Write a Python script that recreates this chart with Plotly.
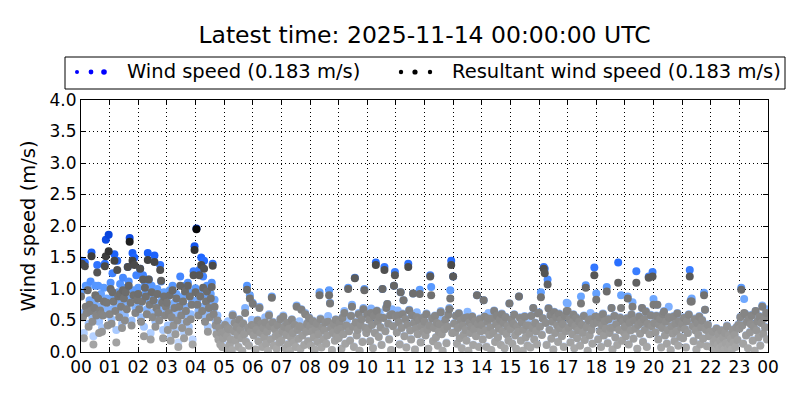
import pandas as pd
import plotly.graph_objects as go

# 2-minute samples, one row per hour
wind_speed = [
    0.95, 1.45, 0.62, 0.30, 1.42, 1.05, 0.70, 1.02, 0.45, 0.82, 1.12, 1.58, 0.55, 0.25, 0.78, 1.05, 0.62, 1.38, 1.05, 0.48, 0.72, 0.92, 0.38, 0.68, 1.02, 1.40, 1.78, 0.85, 0.60, 1.86,
    0.68, 1.10, 0.52, 1.25, 0.88, 1.55, 0.72, 0.35, 1.45, 0.95, 0.62, 1.08, 0.80, 0.45, 1.18, 0.92, 0.58, 1.02, 0.75, 1.35, 1.12, 1.81, 0.85, 0.50, 1.57, 0.98, 1.50, 0.70, 1.22, 0.90,
    1.02, 0.75, 1.32, 0.55, 0.88, 1.22, 0.40, 1.10, 0.95, 0.68, 1.57, 1.15, 0.82, 0.30, 1.05, 0.62, 0.90, 1.53, 0.48, 0.78, 1.00, 0.70, 0.58, 1.38, 1.12, 0.85, 0.35, 0.95, 0.65, 0.80,
    0.85, 0.42, 0.70, 0.98, 0.25, 0.62, 1.05, 0.50, 0.78, 0.35, 0.92, 0.58, 0.15, 0.80, 1.20, 0.65, 0.45, 0.88, 0.30, 1.05, 0.72, 0.55, 1.10, 0.40, 0.95, 0.60, 0.82, 0.20, 1.28, 1.68,
    1.01, 1.96, 0.82, 0.65, 1.30, 0.95, 1.50, 0.72, 1.20, 1.45, 0.55, 0.88, 1.05, 0.40, 0.78, 0.62, 0.92, 1.10, 1.40, 0.68, 0.83, 0.50, 0.35, 0.58, 0.28, 0.45, 0.20, 0.38, 0.15, 0.30,
    0.31, 0.44, 0.07, 0.26, 0.49, 0.37, 0.13, 0.21, 0.03, 0.60, 0.34, 0.47, 0.19, 0.41, 0.28, 0.09, 0.52, 0.36, 0.23, 0.02, 0.46, 0.29, 0.70, 0.17, 1.05, 0.39, 0.11, 0.90, 0.33, 0.51,
    0.78, 0.27, 0.43, 0.04, 0.36, 0.51, 0.18, 0.72, 0.31, 0.46, 0.09, 0.39, 0.24, 0.55, 0.14, 0.33, 0.02, 0.60, 0.42, 0.21, 0.88, 0.48, 0.11, 0.37, 0.26, 0.06, 0.44, 0.29, 0.16, 0.53,
    0.19, 0.34, 0.58, 0.41, 0.07, 0.28, 0.47, 0.13, 0.38, 0.02, 0.24, 0.52, 0.31, 0.16, 0.44, 0.09, 0.74, 0.36, 0.22, 0.49, 0.05, 0.68, 0.27, 0.40, 0.12, 0.62, 0.33, 0.46, 0.18, 0.55,
    0.42, 0.11, 0.33, 0.50, 0.24, 0.04, 0.37, 0.46, 0.17, 0.29, 0.95, 0.53, 0.08, 0.40, 0.21, 0.35, 0.48, 0.14, 0.27, 0.57, 0.98, 0.78, 0.39, 0.03, 0.31, 0.45, 0.19, 0.52, 0.26, 0.36,
    0.23, 0.47, 0.38, 0.06, 0.55, 0.29, 0.65, 0.14, 0.43, 0.51, 1.02, 0.34, 0.19, 0.58, 0.75, 0.41, 0.09, 1.18, 0.48, 0.27, 0.36, 0.62, 0.02, 0.44, 0.53, 0.17, 0.70, 1.00, 0.39, 0.31,
    0.61, 0.37, 0.52, 0.18, 0.69, 0.44, 0.07, 0.58, 0.31, 1.42, 0.66, 0.49, 0.25, 0.63, 0.40, 0.12, 1.00, 0.55, 1.35, 0.34, 0.71, 0.76, 0.46, 0.21, 0.59, 0.03, 0.68, 0.42, 1.05, 1.27,
    0.57, 0.32, 0.66, 0.48, 0.13, 0.95, 0.39, 0.61, 0.82, 0.26, 0.53, 0.08, 0.44, 1.40, 0.67, 0.35, 0.21, 0.59, 0.93, 0.47, 0.04, 0.38, 0.63, 0.29, 0.51, 0.99, 0.16, 0.42, 0.55, 0.33,
    0.49, 0.27, 0.61, 0.36, 0.05, 0.43, 1.22, 1.03, 0.54, 0.18, 0.39, 0.58, 0.24, 0.47, 0.11, 0.33, 0.56, 0.65, 0.29, 0.02, 0.44, 0.37, 0.52, 0.15, 0.41, 0.60, 0.70, 0.98, 1.45, 0.31,
    1.20, 0.46, 0.32, 0.58, 0.14, 0.39, 0.62, 0.23, 0.51, 0.07, 0.43, 0.28, 0.55, 0.36, 0.19, 0.64, 0.02, 0.48, 0.31, 0.41, 0.57, 0.12, 0.37, 0.50, 0.26, 0.90, 0.45, 0.09, 0.53, 0.34,
    0.44, 0.21, 0.82, 0.57, 0.35, 0.09, 0.49, 0.62, 0.28, 0.40, 0.03, 0.54, 0.31, 0.66, 0.17, 0.45, 0.59, 0.24, 0.38, 0.52, 0.12, 0.61, 0.34, 0.47, 0.06, 0.56, 0.29, 0.42, 0.19, 0.77,
    0.37, 0.52, 0.14, 0.46, 0.60, 0.27, 0.05, 0.41, 0.33, 0.88, 0.55, 0.19, 0.48, 0.02, 0.36, 0.57, 0.24, 0.43, 0.11, 0.50, 0.30, 0.08, 0.58, 0.39, 0.70, 0.21, 0.47, 0.34, 0.13, 0.62,
    0.63, 0.41, 0.95, 0.28, 0.54, 1.35, 1.32, 0.47, 0.12, 1.15, 0.70, 0.36, 0.59, 0.22, 0.49, 0.04, 0.64, 0.31, 0.56, 0.43, 0.17, 0.61, 0.38, 0.52, 0.26, 0.45, 0.09, 0.58, 0.34, 0.78,
    0.77, 0.39, 0.53, 0.16, 0.47, 0.29, 0.60, 0.06, 0.42, 0.55, 0.23, 0.35, 0.49, 0.11, 0.88, 0.44, 0.31, 0.58, 0.20, 1.06, 0.40, 0.02, 0.51, 0.27, 0.62, 0.36, 0.14, 0.46, 1.34, 0.57,
    0.93, 0.48, 0.21, 0.56, 0.34, 0.09, 0.43, 0.61, 0.27, 0.50, 0.38, 1.03, 0.15, 0.53, 0.31, 0.46, 0.70, 0.04, 0.40, 0.58, 0.24, 0.45, 0.12, 1.42, 0.36, 0.55, 0.90, 0.19, 0.49, 0.32,
    0.41, 0.26, 0.54, 0.88, 0.13, 0.47, 0.35, 0.60, 0.79, 0.22, 0.51, 0.38, 1.28, 0.05, 0.44, 0.57, 0.30, 0.48, 0.70, 0.17, 0.53, 0.36, 0.65, 0.09, 0.46, 1.20, 0.29, 0.59, 0.42, 1.27,
    0.84, 0.47, 0.32, 0.58, 0.75, 0.21, 0.44, 0.53, 0.08, 0.39, 0.61, 0.65, 0.27, 0.49, 0.14, 0.36, 0.72, 0.55, 0.03, 0.42, 0.30, 0.57, 0.18, 0.46, 0.34, 0.62, 0.11, 0.50, 0.25, 0.40,
    0.46, 0.23, 0.55, 0.37, 0.08, 0.50, 0.31, 0.60, 1.30, 0.82, 0.85, 0.42, 0.18, 0.53, 0.35, 0.04, 0.47, 0.28, 0.57, 0.13, 0.40, 0.51, 0.22, 0.94, 0.67, 0.36, 0.10, 0.44, 0.26, 0.33,
    0.26, 0.08, 0.33, 0.17, 0.02, 0.21, 0.38, 0.12, 0.29, 0.05, 0.19, 0.35, 0.10, 0.24, 0.03, 0.31, 0.15, 0.42, 0.07, 0.27, 0.13, 0.22, 0.04, 0.36, 0.16, 0.28, 0.09, 0.40, 0.20, 0.44,
    0.38, 0.56, 1.02, 0.43, 0.14, 0.84, 0.61, 0.27, 0.49, 0.06, 0.53, 0.32, 0.45, 0.59, 0.19, 0.41, 0.02, 0.65, 0.35, 0.50, 0.24, 0.57, 0.11, 0.47, 0.74, 0.30, 0.54, 0.40, 0.68, 0.21,
]

resultant_speed = [
    0.88, 1.40, 0.55, 0.22, 1.36, 0.72, 0.62, 0.98, 0.40, 0.75, 0.65, 1.52, 0.48, 0.12, 0.70, 0.90, 0.58, 1.26, 0.85, 0.30, 0.66, 0.60, 0.32, 0.58, 0.80, 1.36, 1.52, 0.78, 0.42, 1.60,
    0.60, 1.00, 0.45, 0.95, 0.80, 1.45, 0.65, 0.15, 1.30, 0.88, 0.55, 0.92, 0.72, 0.38, 0.98, 0.85, 0.50, 0.95, 0.68, 1.35, 1.05, 1.75, 0.78, 0.42, 1.45, 0.90, 1.38, 0.62, 0.88, 0.82,
    0.92, 0.68, 1.32, 0.48, 0.80, 1.15, 0.25, 1.02, 0.88, 0.60, 1.46, 1.15, 0.75, 0.20, 0.95, 0.55, 0.82, 1.43, 0.40, 0.70, 0.92, 0.62, 0.50, 1.30, 1.13, 0.78, 0.22, 0.88, 0.58, 0.72,
    0.78, 0.35, 0.62, 0.90, 0.18, 0.55, 0.98, 0.42, 0.70, 0.28, 0.85, 0.50, 0.08, 0.72, 1.05, 0.58, 0.38, 0.80, 0.22, 0.96, 0.65, 0.48, 1.05, 0.32, 0.88, 0.52, 0.75, 0.12, 1.22, 1.62,
    0.95, 1.95, 0.75, 0.58, 1.22, 0.88, 1.38, 0.65, 1.02, 1.32, 0.48, 0.80, 0.96, 0.32, 0.70, 0.55, 0.85, 1.03, 1.37, 0.60, 0.72, 0.42, 0.28, 0.50, 0.20, 0.38, 0.12, 0.30, 0.08, 0.22,
    0.30, 0.43, 0.06, 0.25, 0.38, 0.36, 0.12, 0.20, 0.03, 0.58, 0.33, 0.46, 0.18, 0.40, 0.27, 0.08, 0.51, 0.35, 0.22, 0.02, 0.45, 0.28, 0.62, 0.16, 0.99, 0.38, 0.10, 0.85, 0.32, 0.43,
    0.76, 0.26, 0.42, 0.04, 0.35, 0.50, 0.17, 0.70, 0.30, 0.45, 0.08, 0.38, 0.23, 0.47, 0.13, 0.32, 0.02, 0.58, 0.41, 0.20, 0.86, 0.47, 0.10, 0.36, 0.25, 0.05, 0.43, 0.28, 0.15, 0.52,
    0.18, 0.33, 0.56, 0.40, 0.06, 0.27, 0.46, 0.12, 0.37, 0.02, 0.23, 0.51, 0.30, 0.15, 0.43, 0.08, 0.72, 0.35, 0.21, 0.41, 0.05, 0.67, 0.26, 0.39, 0.11, 0.60, 0.32, 0.45, 0.17, 0.54,
    0.41, 0.10, 0.32, 0.49, 0.23, 0.04, 0.36, 0.45, 0.16, 0.28, 0.90, 0.52, 0.07, 0.39, 0.20, 0.34, 0.47, 0.13, 0.26, 0.48, 0.90, 0.77, 0.38, 0.03, 0.30, 0.44, 0.18, 0.51, 0.25, 0.35,
    0.22, 0.46, 0.37, 0.05, 0.54, 0.28, 0.62, 0.13, 0.42, 0.40, 1.00, 0.33, 0.18, 0.57, 0.72, 0.40, 0.08, 1.17, 0.47, 0.26, 0.35, 0.60, 0.02, 0.43, 0.52, 0.16, 0.68, 0.98, 0.38, 0.30,
    0.60, 0.36, 0.51, 0.17, 0.62, 0.43, 0.06, 0.57, 0.30, 1.38, 0.65, 0.48, 0.24, 0.55, 0.39, 0.11, 1.00, 0.54, 1.30, 0.33, 0.70, 0.76, 0.45, 0.20, 0.58, 0.03, 0.60, 0.41, 1.05, 1.22,
    0.56, 0.31, 0.58, 0.47, 0.12, 0.95, 0.38, 0.60, 0.82, 0.25, 0.52, 0.07, 0.43, 1.35, 0.66, 0.34, 0.20, 0.58, 0.93, 0.46, 0.04, 0.37, 0.55, 0.28, 0.50, 0.92, 0.15, 0.41, 0.54, 0.32,
    0.48, 0.26, 0.60, 0.35, 0.05, 0.42, 1.20, 0.90, 0.53, 0.17, 0.38, 0.57, 0.23, 0.46, 0.10, 0.32, 0.44, 0.63, 0.28, 0.02, 0.43, 0.36, 0.51, 0.14, 0.40, 0.59, 0.68, 0.85, 1.38, 0.30,
    1.20, 0.45, 0.31, 0.57, 0.13, 0.38, 0.61, 0.22, 0.50, 0.06, 0.42, 0.27, 0.54, 0.35, 0.18, 0.55, 0.02, 0.47, 0.30, 0.40, 0.56, 0.11, 0.36, 0.49, 0.25, 0.90, 0.44, 0.08, 0.52, 0.33,
    0.43, 0.20, 0.82, 0.56, 0.34, 0.08, 0.48, 0.53, 0.27, 0.39, 0.03, 0.53, 0.30, 0.65, 0.16, 0.44, 0.58, 0.23, 0.37, 0.51, 0.11, 0.60, 0.33, 0.46, 0.06, 0.55, 0.28, 0.41, 0.18, 0.77,
    0.36, 0.51, 0.13, 0.45, 0.59, 0.26, 0.05, 0.40, 0.32, 0.88, 0.54, 0.18, 0.47, 0.02, 0.35, 0.56, 0.23, 0.42, 0.10, 0.42, 0.29, 0.07, 0.57, 0.38, 0.70, 0.20, 0.46, 0.33, 0.12, 0.61,
    0.62, 0.40, 0.87, 0.27, 0.53, 1.32, 1.25, 0.46, 0.11, 1.07, 0.69, 0.35, 0.58, 0.21, 0.48, 0.04, 0.63, 0.30, 0.55, 0.42, 0.16, 0.60, 0.37, 0.51, 0.25, 0.44, 0.08, 0.57, 0.33, 0.65,
    0.65, 0.38, 0.52, 0.15, 0.46, 0.28, 0.59, 0.06, 0.41, 0.54, 0.22, 0.34, 0.48, 0.10, 0.77, 0.43, 0.30, 0.57, 0.19, 1.02, 0.39, 0.02, 0.50, 0.26, 0.52, 0.35, 0.13, 0.45, 1.22, 0.56,
    0.83, 0.47, 0.20, 0.55, 0.33, 0.08, 0.42, 0.60, 0.26, 0.49, 0.37, 0.96, 0.14, 0.52, 0.30, 0.38, 0.70, 0.04, 0.39, 0.57, 0.23, 0.44, 0.11, 1.10, 0.35, 0.54, 0.70, 0.18, 0.48, 0.31,
    0.40, 0.25, 0.53, 0.85, 0.12, 0.46, 0.34, 0.59, 0.72, 0.21, 0.50, 0.37, 1.10, 0.05, 0.43, 0.56, 0.29, 0.47, 0.70, 0.16, 0.52, 0.35, 0.64, 0.08, 0.45, 1.18, 0.28, 0.58, 0.41, 1.20,
    0.75, 0.46, 0.31, 0.57, 0.75, 0.20, 0.43, 0.52, 0.07, 0.38, 0.60, 0.64, 0.26, 0.48, 0.13, 0.35, 0.55, 0.54, 0.03, 0.41, 0.29, 0.56, 0.17, 0.45, 0.33, 0.61, 0.10, 0.49, 0.24, 0.39,
    0.45, 0.22, 0.54, 0.36, 0.07, 0.49, 0.30, 0.59, 1.20, 0.80, 0.80, 0.41, 0.17, 0.52, 0.34, 0.04, 0.46, 0.27, 0.56, 0.12, 0.39, 0.50, 0.21, 0.90, 0.67, 0.35, 0.09, 0.43, 0.25, 0.32,
    0.25, 0.07, 0.32, 0.16, 0.02, 0.20, 0.37, 0.11, 0.28, 0.05, 0.18, 0.34, 0.09, 0.23, 0.03, 0.30, 0.14, 0.41, 0.06, 0.26, 0.12, 0.21, 0.04, 0.35, 0.15, 0.27, 0.08, 0.39, 0.19, 0.43,
    0.37, 0.55, 0.99, 0.42, 0.13, 0.62, 0.60, 0.26, 0.48, 0.06, 0.52, 0.31, 0.44, 0.58, 0.18, 0.40, 0.02, 0.65, 0.34, 0.49, 0.23, 0.56, 0.10, 0.46, 0.72, 0.29, 0.53, 0.39, 0.62, 0.20,
]

times = pd.date_range("2025-11-13 00:00", periods=len(wind_speed), freq="2min")

latest_time = "2025-11-14 00:00:00 UTC"
wind_label = "Wind speed (0.183 m/s)"
resultant_label = "Resultant wind speed (0.183 m/s)"

blue_scale = [[0, "#d2e2ff"], [0.25, "#98c0ff"], [0.5, "#5c9cff"], [0.75, "#1f66ff"], [1, "#0038d0"]]
gray_scale = [[0, "#ababab"], [0.25, "#8c8c8c"], [0.5, "#696969"], [0.75, "#404040"], [1, "#000000"]]

fig = go.Figure()
fig.add_trace(go.Scatter(x=times, y=wind_speed, mode="markers", name=wind_label,
                         marker=dict(size=8, color=wind_speed, colorscale=blue_scale, cmin=0, cmax=2)))
fig.add_trace(go.Scatter(x=times, y=resultant_speed, mode="markers", name=resultant_label,
                         marker=dict(size=8, color=resultant_speed, colorscale=gray_scale, cmin=0, cmax=2)))

# legend drawn by hand, matplotlib style (three dots + label in a box)
# page pixel -> paper coords; plot area is x 81..768, y 100..352 on the page
def px(x):
    return (x - 81) / 687
def py(y):
    return (352 - y) / 252

shapes = [dict(type="rect", xref="paper", yref="paper", x0=px(65), x1=px(785), y0=py(89), y1=py(57),
               line=dict(color="black", width=1), fillcolor="white")]
for cx, r, col in [(77, 2.0, "blue"), (91, 2.4, "blue"), (104, 2.8, "blue"),
                   (401, 2.2, "black"), (415, 2.6, "black"), (430, 2.2, "black")]:
    shapes.append(dict(type="circle", xref="paper", yref="paper", x0=px(cx - r), x1=px(cx + r),
                       y0=py(72 + r), y1=py(72 - r), fillcolor=col, line=dict(width=0)))

annotations = [
    dict(text=wind_label, xref="paper", yref="paper", x=px(125), y=py(72), xanchor="left", yanchor="middle",
         showarrow=False, font=dict(size=19.5)),
    dict(text=resultant_label, xref="paper", yref="paper", x=px(450), y=py(72), xanchor="left", yanchor="middle",
         showarrow=False, font=dict(size=19.5)),
]

# the page body adds an 8px offset, so margins are shifted by that
fig.update_layout(
    width=800, height=400,
    margin=dict(l=73, r=40, t=92, b=56),
    paper_bgcolor="white", plot_bgcolor="white",
    font=dict(family="DejaVu Sans", size=17, color="black"),
    title=dict(text="Latest time: " + latest_time, x=px(424.5), xref="paper", xanchor="center",
               y=1 - 27 / 400, yanchor="middle", font=dict(size=23.5)),
    showlegend=False,
    shapes=shapes,
    annotations=annotations,
)
fig.update_xaxes(range=["2025-11-13 00:00", "2025-11-14 00:00"], dtick=3600000, tickformat="%H",
                 showline=True, linecolor="black", linewidth=1, mirror="allticks",
                 ticks="inside", ticklen=5, tickcolor="black",
                 showgrid=True, gridcolor="black", griddash="1px,3px", gridwidth=1, zeroline=False)
fig.update_yaxes(range=[0, 4], dtick=0.5, tickformat=".1f", title_text="Wind speed (m/s)",
                 title_font=dict(size=19.5), title_standoff=8,
                 showline=True, linecolor="black", linewidth=1, mirror="allticks",
                 ticks="inside", ticklen=5, tickcolor="black",
                 showgrid=True, gridcolor="black", griddash="1px,3px", gridwidth=1, zeroline=False)

fig.write_html("out.html")
